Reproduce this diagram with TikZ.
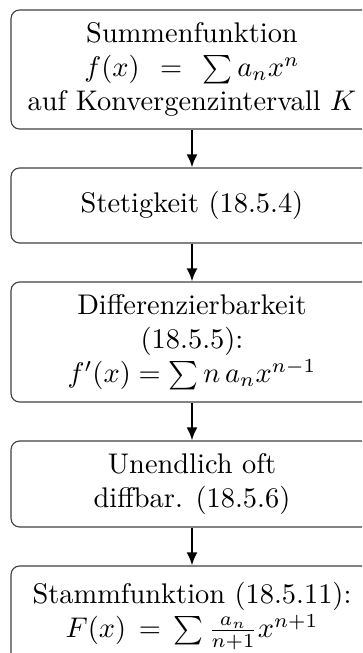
\documentclass[tikz,border=0pt]{standalone}
\usetikzlibrary{arrows.meta}
\begin{document}
\begin{tikzpicture}[x=0.352pt,y=-0.352pt,
  box/.style={draw=black!75, line width=0.4pt, rounded corners=3pt,
    minimum width=127.4pt, align=center, inner sep=0pt},
  arr/.style={-{Latex[length=4.6pt,width=3.9pt]}, line width=0.8pt}]
\useasboundingbox (0,0) rectangle (362,653);
\clip (0,0) rectangle (362,653);
\node[box, minimum height=41.9pt] (b1) at (192,69.5)
  {Summenfunktion\\ $f(x)\,\;=\;\,\sum a_nx^n$\\ auf Konvergenzintervall $K$};
\node[box, minimum height=26.4pt] (b2) at (192,205.5)
  {Stetigkeit (18.5.4)};
\node[box, minimum height=42.24pt] (b3) at (192,342)
  {Differenzierbarkeit\\ (18.5.5):\\ $f'(x) = \sum n\,a_nx^{n-1}$};
\node[box, minimum height=30.27pt] (b4) at (192,484)
  {Unendlich oft\\ diffbar. (18.5.6)};
\node[box, minimum height=35.2pt] (b5) at (192,616)
  {Stammfunktion (18.5.11):\\ $F(x)\,=\,\sum \frac{a_n}{n+1}x^{n+1}$};
\draw[arr] (b1.south) -- (b2.north);
\draw[arr] (b2.south) -- (b3.north);
\draw[arr] (b3.south) -- (b4.north);
\draw[arr] (b4.south) -- (b5.north);
\end{tikzpicture}
\end{document}
